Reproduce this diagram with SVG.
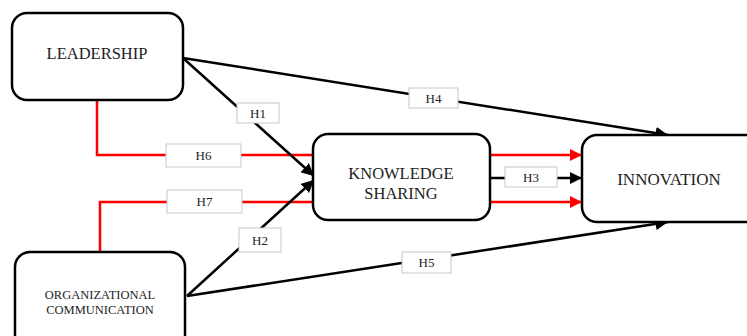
<svg xmlns="http://www.w3.org/2000/svg" width="747" height="336" viewBox="0 0 747 336">
<defs>
<style>
.node{fill:#fff;stroke:#000;stroke-width:2.5}
.t{font-family:"Liberation Serif","Times New Roman",serif;fill:#222;text-anchor:middle}
.lbl rect{fill:#fff;stroke:#c8c8c8;stroke-width:1}
.lbl text{font-family:"Liberation Serif","Times New Roman",serif;font-size:13px;fill:#222;text-anchor:middle}
.k{fill:none;stroke:#000;stroke-width:2.5}
.r{fill:none;stroke:#ff0000;stroke-width:2.5}
</style>
<marker id="ak" viewBox="0 0 10 10" refX="10" refY="5" markerWidth="5" markerHeight="5" markerUnits="strokeWidth" orient="auto"><path d="M0,0L10,5L0,10z" fill="#000"/></marker>
<marker id="ar" viewBox="0 0 10 10" refX="10" refY="5" markerWidth="5" markerHeight="5" markerUnits="strokeWidth" orient="auto"><path d="M0,0L10,5L0,10z" fill="#ff0000"/></marker>
</defs>
<g id="connectors">
<path class="r" d="M97,101V155H313"/>
<path class="r" d="M100,251V202H313"/>
<path class="r" d="M490,155H582" marker-end="url(#ar)"/>
<path class="r" d="M490,202H582" marker-end="url(#ar)"/>
<path class="k" d="M490,178H582" marker-end="url(#ak)"/>
<path class="k" d="M183,58L314,176" marker-end="url(#ak)"/>
<path class="k" d="M187,296L314,180" marker-end="url(#ak)"/>
<path class="k" d="M183,58L668,135" marker-end="url(#ak)"/>
<path class="k" d="M187,296L668,222" marker-end="url(#ak)"/>
<g class="lbl"><rect x="237" y="103" width="42" height="20"/><text x="258" y="118">H1</text></g>
<g class="lbl"><rect x="409" y="88" width="49" height="20"/><text x="433.5" y="103">H4</text></g>
<g class="lbl"><rect x="166" y="144" width="75" height="23"/><text x="203.5" y="160">H6</text></g>
<g class="lbl"><rect x="167" y="190" width="75" height="23"/><text x="204.5" y="206">H7</text></g>
<g class="lbl"><rect x="239" y="228" width="42" height="24"/><text x="260" y="245">H2</text></g>
<g class="lbl"><rect x="505" y="167" width="52" height="20"/><text x="531" y="182">H3</text></g>
<g class="lbl"><rect x="402" y="252" width="49" height="21"/><text x="426.5" y="267">H5</text></g>
</g>
<g id="leadership"><rect class="node" x="12" y="13" width="171" height="87" rx="15"/><text class="t" x="97" y="59" font-size="16.5">LEADERSHIP</text></g>
<g id="orgcomm"><rect class="node" x="15" y="252" width="170" height="100" rx="15"/><text class="t" x="100" y="299" font-size="12.5">ORGANIZATIONAL</text><text class="t" x="100" y="314" font-size="12.5">COMMUNICATION</text></g>
<g id="knowledge"><rect class="node" x="313" y="134" width="177" height="86" rx="15"/><text class="t" x="401" y="179" font-size="16.5">KNOWLEDGE</text><text class="t" x="401" y="199" font-size="16.5">SHARING</text></g>
<g id="innovation"><rect class="node" x="582" y="135" width="190" height="87" rx="15"/><text class="t" x="669" y="185" font-size="17">INNOVATION</text></g>
</svg>
